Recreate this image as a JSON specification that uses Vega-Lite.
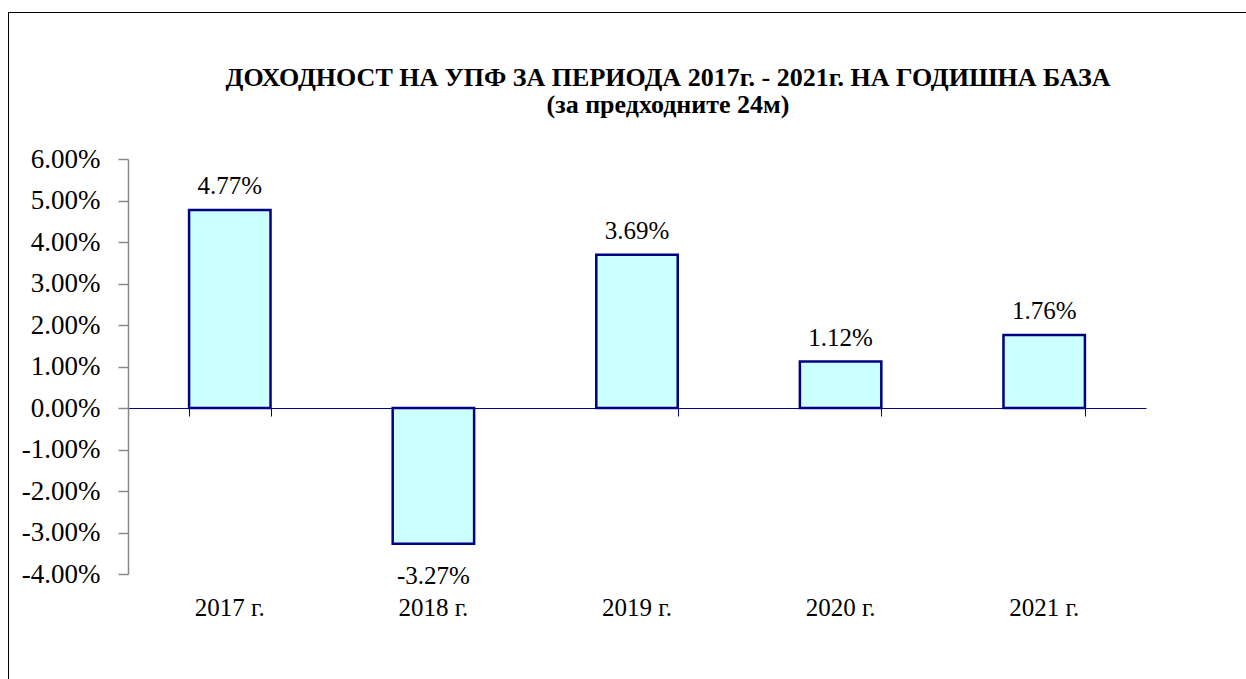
{
  "$schema": "https://vega.github.io/schema/vega-lite/v6.json",
  "width": 1238,
  "height": 667,
  "autosize": {"type": "none"},
  "padding": {"left": 8, "top": 12, "right": 0, "bottom": 0},
  "background": "white",
  "title": {
    "text": ["ДОХОДНОСТ НА УПФ ЗА ПЕРИОДА 2017г. - 2021г. НА ГОДИШНА БАЗА", "(за предходните 24м)"],
    "font": "Liberation Serif",
    "fontSize": 26,
    "fontWeight": "bold",
    "color": "black",
    "anchor": "middle",
    "frame": "group",
    "baseline": "top",
    "offset": -56,
    "dx": 41,
    "dy": 50,
    "lineHeight": 27
  },
  "data": {
    "values": [
      {"year": "2017 г.", "value": 0.0477},
      {"year": "2018 г.", "value": -0.0327},
      {"year": "2019 г.", "value": 0.0369},
      {"year": "2020 г.", "value": 0.0112},
      {"year": "2021 г.", "value": 0.0176}
    ]
  },
  "layer": [
    {
      "mark": {"type": "bar", "fill": "#CCFFFF", "stroke": "#000080", "strokeWidth": 2.5},
      "encoding": {
        "x": {
          "field": "year", "type": "nominal", "sort": null,
          "scale": {"range": [120, 1138], "paddingInner": 0.6, "paddingOuter": 0.3},
          "axis": {
            "orient": "bottom", "offset": -271, "title": null, "labels": false,
            "tickBand": "extent", "domainColor": "#000080", "domainWidth": 1,
            "tickColor": "#000080", "tickWidth": 1, "tickSize": 8, "grid": false
          }
        },
        "y": {
          "field": "value", "type": "quantitative",
          "scale": {"domain": [-0.04, 0.06], "range": [562, 147], "nice": false, "zero": false},
          "axis": {
            "orient": "left", "offset": -120, "title": null, "format": ".2%",
            "values": [-0.04, -0.03, -0.02, -0.01, 0, 0.01, 0.02, 0.03, 0.04, 0.05, 0.06],
            "grid": false, "domainColor": "#888888", "domainWidth": 1.5,
            "tickColor": "#888888", "tickWidth": 1.5, "tickSize": 10,
            "labelPadding": 18, "labelFont": "Liberation Serif", "labelFontSize": 27,
            "labelColor": "black"
          }
        }
      }
    },
    {
      "transform": [{"filter": "datum.value >= 0"}],
      "mark": {"type": "text", "font": "Liberation Serif", "fontSize": 25, "color": "black", "baseline": "alphabetic", "dy": -16},
      "encoding": {
        "x": {
          "field": "year", "type": "nominal", "sort": null,
          "axis": {
            "orient": "bottom", "offset": -72, "title": null, "ticks": false, "domain": false,
            "labelBaseline": "middle", "labelPadding": 0, "labelFont": "Liberation Serif",
            "labelFontSize": 25, "labelColor": "black", "labelAngle": 0, "grid": false
          }
        },
        "y": {"field": "value", "type": "quantitative"},
        "text": {"field": "value", "type": "quantitative", "format": ".2%"}
      }
    },
    {
      "transform": [{"filter": "datum.value < 0"}],
      "mark": {"type": "text", "font": "Liberation Serif", "fontSize": 25, "color": "black", "baseline": "alphabetic", "dy": 40},
      "encoding": {
        "x": {"field": "year", "type": "nominal", "sort": null, "axis": null},
        "y": {"field": "value", "type": "quantitative"},
        "text": {"field": "value", "type": "quantitative", "format": ".2%"}
      }
    }
  ],
  "resolve": {"axis": {"x": "independent"}},
  "config": {
    "font": "Liberation Serif",
    "axis": {"labelFont": "Liberation Serif"},
    "text": {"font": "Liberation Serif"},
    "view": {"stroke": "black", "strokeWidth": 1, "strokeDash": [1240, 1903, 670]},
    "locale": {"number": {"decimal": ".", "thousands": ",", "grouping": [3], "currency": ["$", ""], "minus": "-"}}
  }
}
